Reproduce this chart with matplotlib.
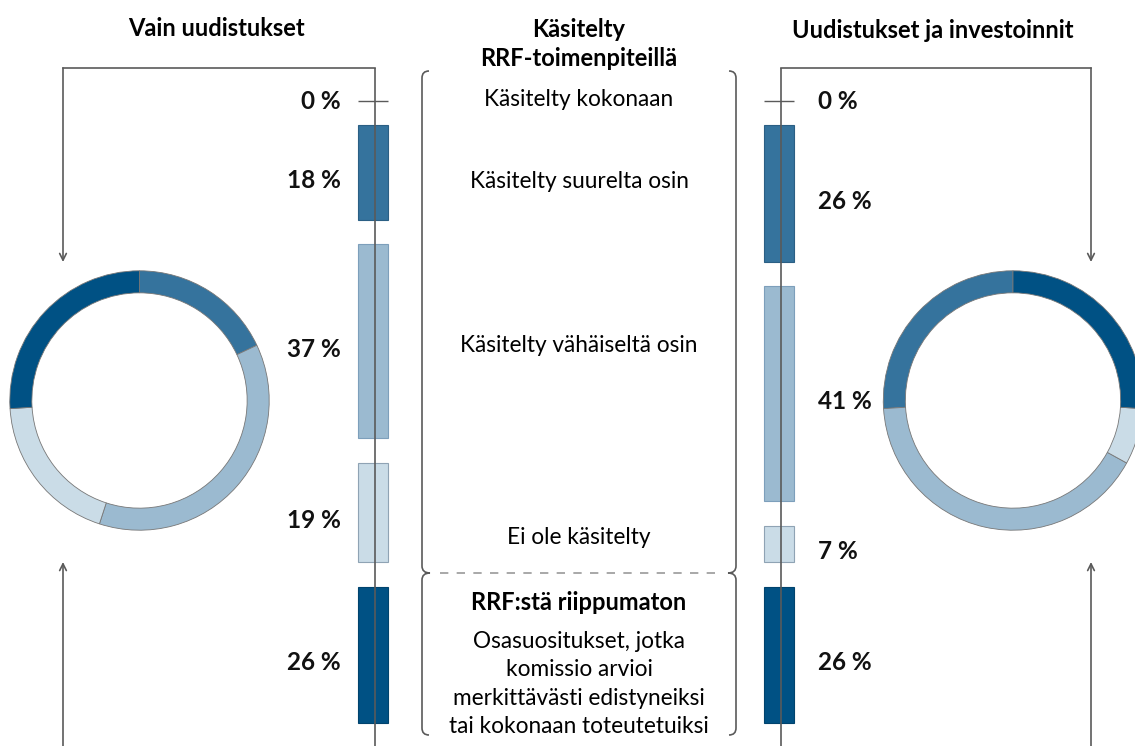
import numpy as np
import matplotlib
matplotlib.use("Agg")
import matplotlib.pyplot as plt
from matplotlib.path import Path
from matplotlib.patches import PathPatch

plt.rcParams['font.family'] = ['Lato', 'DejaVu Sans']

# categories top -> bottom in the stacks
categories = ["Käsitelty kokonaan", "Käsitelty suurelta osin",
              "Käsitelty vähäiseltä osin", "Ei ole käsitelty", "RRF:stä riippumaton"]
only_reforms = [0, 18, 37, 19, 26]        # Vain uudistukset
reforms_invest = [0, 26, 41, 7, 26]       # Uudistukset ja investoinnit
colors = ["#35739d", "#35739d", "#9bbad0", "#cadce7", "#005184"]
edges = ["#2b5f84", "#2b5f84", "#7d9fbb", "#8fa3b4", "#00436d"]

titles = ["Vain uudistukset", "Uudistukset ja investoinnit"]
mid_title = "Käsitelty\nRRF-toimenpiteillä"
indep_title = "RRF:stä riippumaton"
indep_text = "Osasuositukset, jotka\nkomissio arvioi\nmerkittävästi edistyneiksi\ntai kokonaan toteutetuiksi"

W, H = 1135, 746
fig = plt.figure(figsize=(W / 100, H / 100), dpi=100)

# overlay axes in pixel coordinates (y downwards)
ax = fig.add_axes([0, 0, 1, 1])
ax.set_xlim(0, W)
ax.set_ylim(H, 0)
ax.axis("off")

# stacked-bar axes: y in percent units, 0 % placed at pixel 101
PX = 5.25          # pixels per percent
GAP = 24.3 / PX    # gap between segments in percent units
TOP = 101
bx = fig.add_axes([0, 0, 1, 1])
bx.set_xlim(0, W)
bx.set_ylim((H - TOP) / PX, -TOP / PX)
bx.axis("off")
bx.patch.set_alpha(0)

line_c = "#5a5a5a"


def draw_stack(xc, values, label_x, ha):
    pos = 0.0
    for i, v in enumerate(values):
        if i > 0:
            pos += GAP
        if v == 0:
            bx.hlines(pos, xc - 17, xc + 13, color=line_c, lw=1)
            yl = pos
        else:
            bx.bar(xc - 2, v, bottom=pos, width=30, color=colors[i],
                   edgecolor=edges[i], lw=0.8, zorder=2)
            yl = pos + v / 2 + 1.5
        bx.text(label_x, yl, f"{v} %", ha=ha, va="center", fontsize=17.5,
                fontweight="bold", color="#111111")
        pos += v
    # vertical connector through the stack
    bx.vlines(xc, -TOP / PX + 68 / PX, (H - TOP) / PX, color=line_c, lw=1.2, zorder=3)


draw_stack(375, only_reforms, 341, "right")
draw_stack(781, reforms_invest, 818, "left")

# connectors and arrows
arrow = dict(arrowstyle="->", color=line_c, lw=1.2, shrinkA=0, shrinkB=0, mutation_scale=12)
ax.plot([375, 63], [68, 68], color=line_c, lw=1.2)
ax.plot([781, 1091], [68, 68], color=line_c, lw=1.2)
for x in (63, 1091):
    ax.annotate("", xy=(x, 262), xytext=(x, 68), arrowprops=arrow)
    ax.annotate("", xy=(x, 562), xytext=(x, H), arrowprops=arrow)

# donuts
def donut(cx, cy, r, values, counterclock):
    dax = fig.add_axes([(cx - r) / W, (H - cy - r) / H, 2 * r / W, 2 * r / H])
    vals = values[1:]
    dax.pie(vals, colors=colors[1:], startangle=90, counterclock=counterclock,
            radius=1, wedgeprops=dict(width=0.17, edgecolor="#777777", linewidth=0.6))
    dax.set_aspect("equal")
    dax.set_xlim(-1.01, 1.01)
    dax.set_ylim(-1.01, 1.01)
    dax.axis("off")


donut(139.5, 400.5, 131, only_reforms, False)
donut(1013, 400.5, 131, reforms_invest, True)

# brackets in the middle
def bracket(xs):
    s = 1 if xs < 579 else -1
    verts = [(xs + 7 * s, 71), (xs, 71), (xs, 78),
             (xs, 566), (xs, 573), (xs + 8 * s, 573),
             (xs, 573), (xs, 580),
             (xs, 728), (xs, 735), (xs + 7 * s, 735)]
    codes = [Path.MOVETO, Path.CURVE3, Path.CURVE3,
             Path.LINETO, Path.CURVE3, Path.CURVE3,
             Path.CURVE3, Path.CURVE3,
             Path.LINETO, Path.CURVE3, Path.CURVE3]
    ax.add_patch(PathPatch(Path(verts, codes), fill=False, edgecolor=line_c, lw=1.2))


bracket(422)
bracket(736)
ax.plot([440, 722], [573, 573], color="#9a9a9a", lw=1.2, dashes=(5, 5))

# texts
ax.text(216, 28, titles[0], ha="center", va="center", fontsize=17, fontweight="bold")
ax.text(933, 31, titles[1], ha="center", va="center", fontsize=17, fontweight="bold")
ax.text(579, 44, mid_title, ha="center", va="center", fontsize=17, fontweight="bold",
        linespacing=1.32)
mid_y = [100, 182, 346, 538]
for lab, y in zip(categories[:4], mid_y):
    ax.text(579, y, lab, ha="center", va="center", fontsize=16.3)
ax.text(579, 603, indep_title, ha="center", va="center", fontsize=17, fontweight="bold")
ax.text(579, 684, indep_text, ha="center", va="center", fontsize=16.3, linespacing=1.42)

fig.savefig("out.png", dpi=100)
